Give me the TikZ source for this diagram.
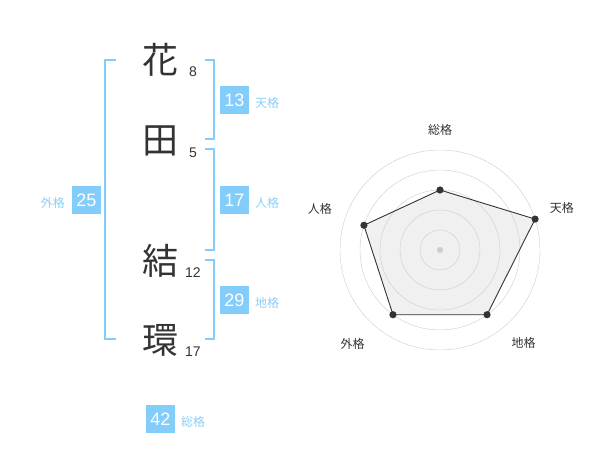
\documentclass[tikz,border=0pt]{standalone}
\usepackage{fontspec}
\setmainfont{Liberation Sans}
\newfontfamily\jp{Noto Sans CJK JP}
\usetikzlibrary{positioning}
\definecolor{kakublue}{HTML}{82CDFA}
\definecolor{kakutext}{HTML}{8ACFF7}
\definecolor{moji}{HTML}{333333}
\begin{document}
\begin{tikzpicture}[x=1pt,y=-1pt,
  kanji/.style={text=moji,inner sep=0pt,font=\jp\fontsize{36}{36}\selectfont},
  kakusu/.style={text=moji,inner sep=0pt,font=\fontsize{14}{14}\selectfont},
  score/.style={fill=kakublue,text=white,minimum size=28.5pt,inner sep=0pt,font=\fontsize{18}{18}\selectfont},
  kaku/.style={text=kakutext,inner sep=0pt,font=\jp\fontsize{12}{12}\selectfont},
  bracket/.style={draw=kakublue,line width=2pt},
  radar/.style={text=moji,inner sep=0pt,font=\jp\fontsize{12}{12}\selectfont}]
\useasboundingbox (0,0) rectangle (600,470);
\foreach \i/\k/\v/\y in {1/花/8/60, 2/田/5/141, 3/結/12/261, 4/環/17/340}{
  \node[kanji] (k\i) at (160,\y) {\k};
  \node[kakusu] (n\i) at (193,\y+12) {\v};
}
\draw[bracket] (116,60) -- (105,60) -- (105,339) -- (116,339);
\foreach \a/\b in {60/139, 149/250, 260/339}
  \draw[bracket] (205,\a) -- (214,\a) -- (214,\b) -- (205,\b);
\foreach \i/\v/\x/\y in {gai/25/86.5/200, ten/13/234.5/100, jin/17/234.5/200, chi/29/234.5/300, so/42/160.5/419}
  \node[score] (s\i) at (\x,\y) {\v};
\node[kaku, left=7pt of sgai, yshift=-3pt] (tgai) {外格};
\foreach \i/\t in {ten/天格, jin/人格, chi/地格, so/総格}
  \node[kaku, right=6pt of s\i, yshift=-3pt] (t\i) {\t};
\begin{scope}[shift={(440,250)}]
\foreach \i/\a/\v in {1/-90/3, 2/-18/5, 3/54/4, 4/126/4, 5/198/4}
  \coordinate (p\i) at (\a:\v*20);
\fill[black!6] (p1) -- (p2) -- (p3) -- (p4) -- (p5) -- cycle;
\foreach \r in {20,40,...,100}
  \draw[black!20] (0,0) circle (\r pt);
\fill[black!20] (0,0) circle (3pt);
\draw[moji, line width=0.9pt] (p1) -- (p2) -- (p3) -- (p4) -- (p5) -- cycle;
\foreach \i in {1,...,5}
  \fill[moji] (p\i) circle (3.6pt);
\foreach \i/\a/\r/\t in {1/-90/120/総格, 2/-19/129/天格, 3/48/125/地格, 4/133/128/外格, 5/199/127/人格}
  \node[radar] (r\i) at (\a:\r) {\t};
\end{scope}
\end{tikzpicture}
\end{document}
